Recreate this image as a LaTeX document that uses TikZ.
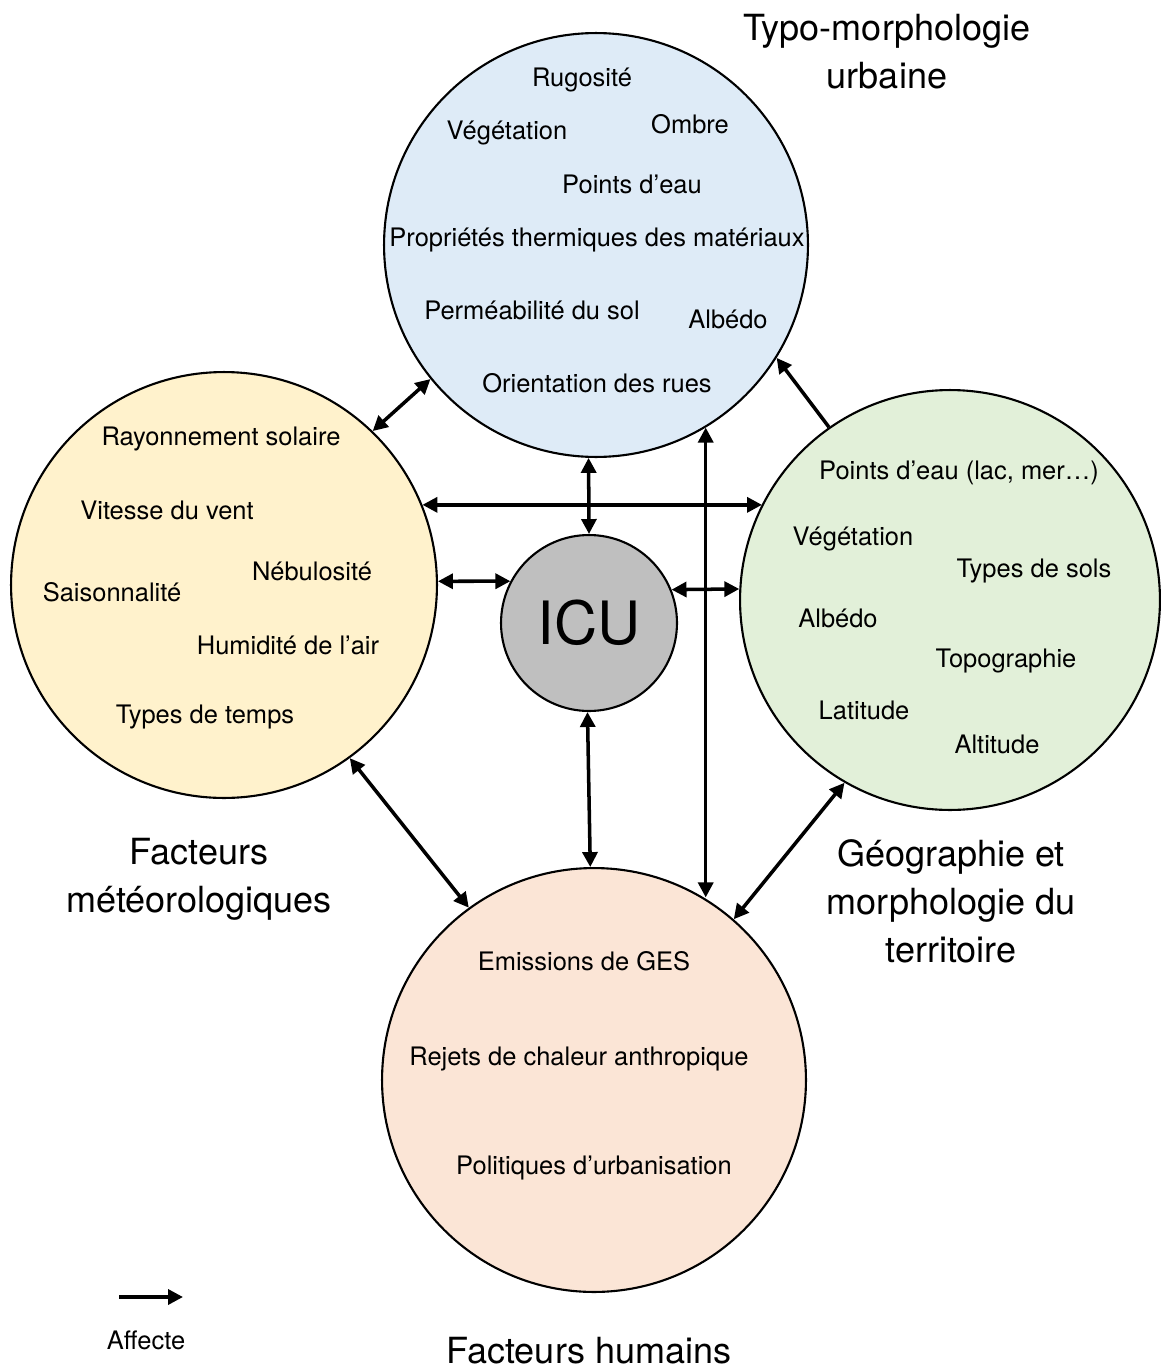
\documentclass[tikz,border=0pt]{standalone}
\usepackage{fontspec}
\setmainfont{TeX Gyre Heros}
\usetikzlibrary{arrows.meta}
\definecolor{morphoblue}{HTML}{DEEBF7}
\definecolor{meteoyellow}{HTML}{FFF2CC}
\definecolor{geogreen}{HTML}{E2F0D9}
\definecolor{humanorange}{HTML}{FBE5D6}
\definecolor{icugray}{HTML}{BFBFBF}
\tikzset{x=0.02cm, y=-0.02cm, % One unit is one pixel of the sketch
factor/.style={ % Sets the properties for the four big circles
circle, draw, line width=1.2pt,
minimum size=8.48cm, inner sep=0pt},
item/.style={ % Words inside the circles
font=\fontsize{14.5}{17}\selectfont, yshift=-1.2pt},
title/.style={ % Names of the circles
align=center, font=\fontsize{20.5}{27.3}\selectfont},
every edge/.style={ % Sets the properties for each link
draw,<->,>={Triangle[length=8.5pt,width=8.5pt]}, % Both ends get a head
line width=2pt}}

\begin{document}
\begin{tikzpicture}
    \useasboundingbox (0,0) rectangle (1160,1369);
    \node[factor, fill=morphoblue] (morpho) at (596,245) {};
    \node[factor, fill=meteoyellow, minimum size=8.52cm] (meteo) at (224,585) {};
    \node[factor, fill=geogreen, minimum size=8.4cm] (geo) at (950,600) {};
    \node[factor, fill=humanorange] (human) at (594,1080) {};
    \node[circle, draw, line width=1.2pt, fill=icugray, minimum size=3.52cm,
      inner sep=0pt, font=\fontsize{34}{40}\selectfont] (icu) at (589,623) {ICU};
    % Typo-morphologie urbaine
    \node[item] (rug) at (582,78) {Rugosité};
    \node[item] (veg1) at (507,131) {Végétation};
    \node[item] (omb) at (690,122) {Ombre};
    \node[item] (eau1) at (632,182) {Points d’eau};
    \node[item] (prop) at (597,238) {Propriétés thermiques des matériaux};
    \node[item] (perm) at (532,308) {Perméabilité du sol};
    \node[item] (alb1) at (728,317) {Albédo};
    \node[item] (orient) at (597,381) {Orientation des rues};
    % Facteurs météorologiques
    \node[item] (ray) at (221,437) {Rayonnement solaire};
    \node[item] (vent) at (167,508) {Vitesse du vent};
    \node[item] (neb) at (312,569) {Nébulosité};
    \node[item] (sais) at (112,590) {Saisonnalité};
    \node[item] (hum) at (288,643) {Humidité de l’air};
    \node[item] (temps) at (205,715) {Types de temps};
    % Géographie et morphologie du territoire
    \node[item] (eau2) at (959,471) {Points d’eau (lac, mer…)};
    \node[item] (veg2) at (853,537) {Végétation};
    \node[item] (sols) at (1034,569) {Types de sols};
    \node[item] (alb2) at (838,616) {Albédo};
    \node[item] (topo) at (1006,659) {Topographie};
    \node[item] (lat) at (864,708) {Latitude};
    \node[item] (alt) at (997,742) {Altitude};
    % Facteurs humains
    \node[item] (ges) at (584,959) {Emissions de GES};
    \node[item] (rejets) at (579,1057) {Rejets de chaleur anthropique};
    \node[item] (polit) at (594,1166) {Politiques d’urbanisation};
    % Names
    \node[title] (tmorpho) at (887,52) {Typo-morphologie\\urbaine};
    \node[title] (tmeteo) at (199,879) {Facteurs\\météorologiques};
    \node[title] (tgeo) at (951,901) {Géographie et\\morphologie du\\territoire};
    \node[title] (thuman) at (589,1351) {Facteurs humains};
    % Links
    \draw (morpho.219) edge (meteo.46);
    \draw (morpho.268) edge (icu.90);
    \draw (meteo.22) edge (meteo.22 -| geo.153);
    \draw (meteo.1) edge (icu.152);
    \draw (icu.22) edge (geo.177);
    \draw (icu.269) edge (human.91);
    \draw (meteo.306) edge (human.126);
    \draw (geo.240) edge (human.49);
    \draw (morpho.301) edge (morpho.301 |- human.59);
    \draw (geo.125) edge[-{Triangle[length=8.5pt,width=8.5pt]}] (morpho.328);
    % Legend
    \coordinate (legA) at (119,1297);
    \coordinate (legB) at (183,1297);
    \draw (legA) edge[-{Triangle[length=8.5pt,width=8.5pt]}] (legB);
    \node[item, font=\fontsize{14.5}{17}\selectfont] (affecte) at (146,1338) {Affecte};
\end{tikzpicture}
\end{document}
